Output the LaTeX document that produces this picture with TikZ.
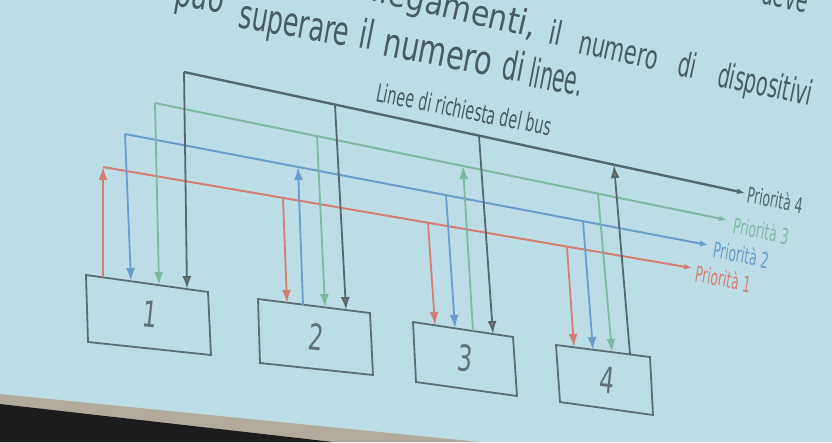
\documentclass[tikz,border=0pt]{standalone}
\usepackage{fontspec}
\setmainfont{DejaVu Sans}
\usetikzlibrary{arrows.meta}
\definecolor{bg}{RGB}{188,221,230}
\definecolor{cred}{RGB}{212,126,114}
\definecolor{cblue}{RGB}{104,158,204}
\definecolor{cgreen}{RGB}{124,186,160}
\definecolor{cdark}{RGB}{84,104,110}
\definecolor{cbrown}{RGB}{142,114,104}
\definecolor{ctext}{RGB}{72,90,98}
\definecolor{cbox}{RGB}{92,110,116}
\definecolor{cnum}{RGB}{96,112,118}
\definecolor{beige}{RGB}{178,170,156}
\definecolor{blk}{RGB}{28,28,30}
\begin{document}
\begin{tikzpicture}[x=1pt,y=-1pt,
  bus/.style={line width=2pt},
  vline/.style={line width=1.8pt},
  bigtip/.style={-{Latex[length=13pt,width=9pt]}},
  darktip/.style={-{Latex[length=13pt,width=9pt,fill=cbrown]}},
  smalltip/.style={-{Latex[length=8pt,width=6pt]}},
  boxline/.style={draw=cbox,line width=1.8pt,line join=miter},
  word/.style={inner sep=0pt,text=ctext,anchor=base west},
  prio/.style={inner sep=0pt,anchor=base west,font=\fontsize{22}{22}\selectfont,xslant=-0.05,rotate=-12,xscale=0.56},
  num/.style={inner sep=0pt,text=cnum,font=\fontsize{36}{36}\selectfont,rotate=-6,xscale=0.65}]
\clip (0,0) rectangle (832,442);
% background of the photo
\fill[bg] (0,0) rectangle (832,442);
\fill[beige] (0,394) -- (480,442) -- (0,442) -- cycle;
\fill[blk] (0,404) -- (333,442) -- (0,442) -- cycle;

% slide text
\node[word,anchor=base east,font=\fontsize{34}{34}\selectfont,rotate=-12,xscale=0.56] (w0) at (806,13) {deve};
\node[word,anchor=base east,font=\fontsize{35}{35}\selectfont,rotate=-13,xscale=0.85] (w1a) at (534,38) {collegamenti,};
\node[word,font=\fontsize{33}{33}\selectfont,rotate=-12,xscale=0.7] (w1b) at (547,43) {il};
\node[word,font=\fontsize{33}{33}\selectfont,rotate=-12,xscale=0.63] (w1c) at (577,53) {numero};
\node[word,font=\fontsize{34}{34}\selectfont,rotate=-12,xscale=0.58] (w1d) at (676,75) {di};
\node[word,font=\fontsize{34}{34}\selectfont,rotate=-12,xscale=0.56] (w1e) at (716,86) {dispositivi};
\node[word,font=\fontsize{40}{40}\selectfont,rotate=-10,xscale=0.66] (w2a) at (173,5) {può};
\node[word,font=\fontsize{40}{40}\selectfont,rotate=-10,xscale=0.63] (w2b) at (237,27) {superare};
\node[word,font=\fontsize{40}{40}\selectfont,rotate=-11,xscale=0.65] (w2c) at (357,47) {il};
\node[word,font=\fontsize{40}{40}\selectfont,rotate=-11,xscale=0.72] (w2d) at (381,55) {numero};
\node[word,font=\fontsize{40}{40}\selectfont,rotate=-11,xscale=0.6] (w2e) at (500,78) {di};
\node[word,font=\fontsize{40}{40}\selectfont,rotate=-11,xscale=0.5] (w2f) at (527,86) {linee.};

\node[word,font=\fontsize{25}{25}\selectfont,rotate=-11.3,xscale=0.57] (lbl) at (375,101) {Linee di richiesta del bus};

% bus line corners and ends
\coordinate (R0) at (103,167); \coordinate (Rend) at (692,268);
\coordinate (B0) at (125,134); \coordinate (Bend) at (708,245);
\coordinate (G0) at (155,103); \coordinate (Gend) at (727,220);
\coordinate (D0) at (184,72);  \coordinate (Dend) at (745,193);
% taps on the bus lines
\coordinate (R2) at (283,198); \coordinate (R3) at (428,223); \coordinate (R4) at (567,247);
\coordinate (B2) at (298,167); \coordinate (B3) at (446,195); \coordinate (B4) at (583,221);
\coordinate (G2) at (317,136); \coordinate (G3) at (463,166); \coordinate (G4) at (598,194);
\coordinate (D2) at (335,105); \coordinate (D3) at (479,136); \coordinate (D4) at (614,165);
% boxes
\coordinate (b1tl) at (86,275);  \coordinate (b1tr) at (208,292); \coordinate (b1br) at (211,355); \coordinate (b1bl) at (88,342);
\coordinate (b2tl) at (258,299); \coordinate (b2tr) at (370,313); \coordinate (b2br) at (373,375); \coordinate (b2bl) at (260,363);
\coordinate (b3tl) at (413,322); \coordinate (b3tr) at (513,337); \coordinate (b3br) at (517,396); \coordinate (b3bl) at (416,382);
\coordinate (b4tl) at (556,345); \coordinate (b4tr) at (650,357); \coordinate (b4br) at (653,415); \coordinate (b4bl) at (560,402);
% attachment points on box tops
\coordinate (r1) at (103,277); \coordinate (b1) at (131,281); \coordinate (g1) at (159,285); \coordinate (d1) at (187,289);
\coordinate (r2) at (287,303); \coordinate (b2) at (303,305); \coordinate (g2) at (325,307); \coordinate (d2) at (346,310);
\coordinate (r3) at (435,325); \coordinate (b3) at (455,328); \coordinate (g3) at (473,331); \coordinate (d3) at (493,334);
\coordinate (r4) at (574,347); \coordinate (b4) at (593,350); \coordinate (g4) at (612,352); \coordinate (d4) at (630,354);

\draw[boxline] (b1tl) -- (b1tr) -- (b1br) -- (b1bl) -- cycle;
\draw[boxline] (b2tl) -- (b2tr) -- (b2br) -- (b2bl) -- cycle;
\draw[boxline] (b3tl) -- (b3tr) -- (b3br) -- (b3bl) -- cycle;
\draw[boxline] (b4tl) -- (b4tr) -- (b4br) -- (b4bl) -- cycle;
\node[num] (n1) at (150,314) {1};
\node[num] (n2) at (316,337) {2};
\node[num] (n3) at (465,358) {3};
\node[num] (n4) at (607,380) {4};

% bus lines
\draw[bus,cred,smalltip] (R0) -- (Rend);
\draw[bus,cblue,smalltip] (B0) -- (Bend);
\draw[bus,cgreen,smalltip] (G0) -- (Gend);
\draw[bus,cdark,line width=2.4pt,smalltip] (D0) -- (Dend);

% device 1
\draw[vline,cred,bigtip] (r1) -- (R0);
\draw[vline,cblue,bigtip] (B0) -- (b1);
\draw[vline,cgreen,bigtip] (G0) -- (g1);
\draw[vline,cdark,darktip] (D0) -- (d1);
% device 2
\draw[vline,cred,bigtip] (R2) -- (r2);
\draw[vline,cblue,bigtip] (b2) -- (B2);
\draw[vline,cgreen,bigtip] (G2) -- (g2);
\draw[vline,cdark,darktip] (D2) -- (d2);
% device 3
\draw[vline,cred,bigtip] (R3) -- (r3);
\draw[vline,cblue,bigtip] (B3) -- (b3);
\draw[vline,cgreen,bigtip] (g3) -- (G3);
\draw[vline,cdark,darktip] (D3) -- (d3);
% device 4
\draw[vline,cred,bigtip] (R4) -- (r4);
\draw[vline,cblue,bigtip] (B4) -- (b4);
\draw[vline,cgreen,bigtip] (G4) -- (g4);
\draw[vline,cdark,darktip] (d4) -- (D4);

% priority labels
\node[prio,text=cdark] (p4) at (746,202) {Priorità 4};
\node[prio,text=cgreen] (p3) at (732,233) {Priorità 3};
\node[prio,text=cblue] (p2) at (712,257) {Priorità 2};
\node[prio,text=cred] (p1) at (694,281) {Priorità 1};
\end{tikzpicture}
\end{document}
